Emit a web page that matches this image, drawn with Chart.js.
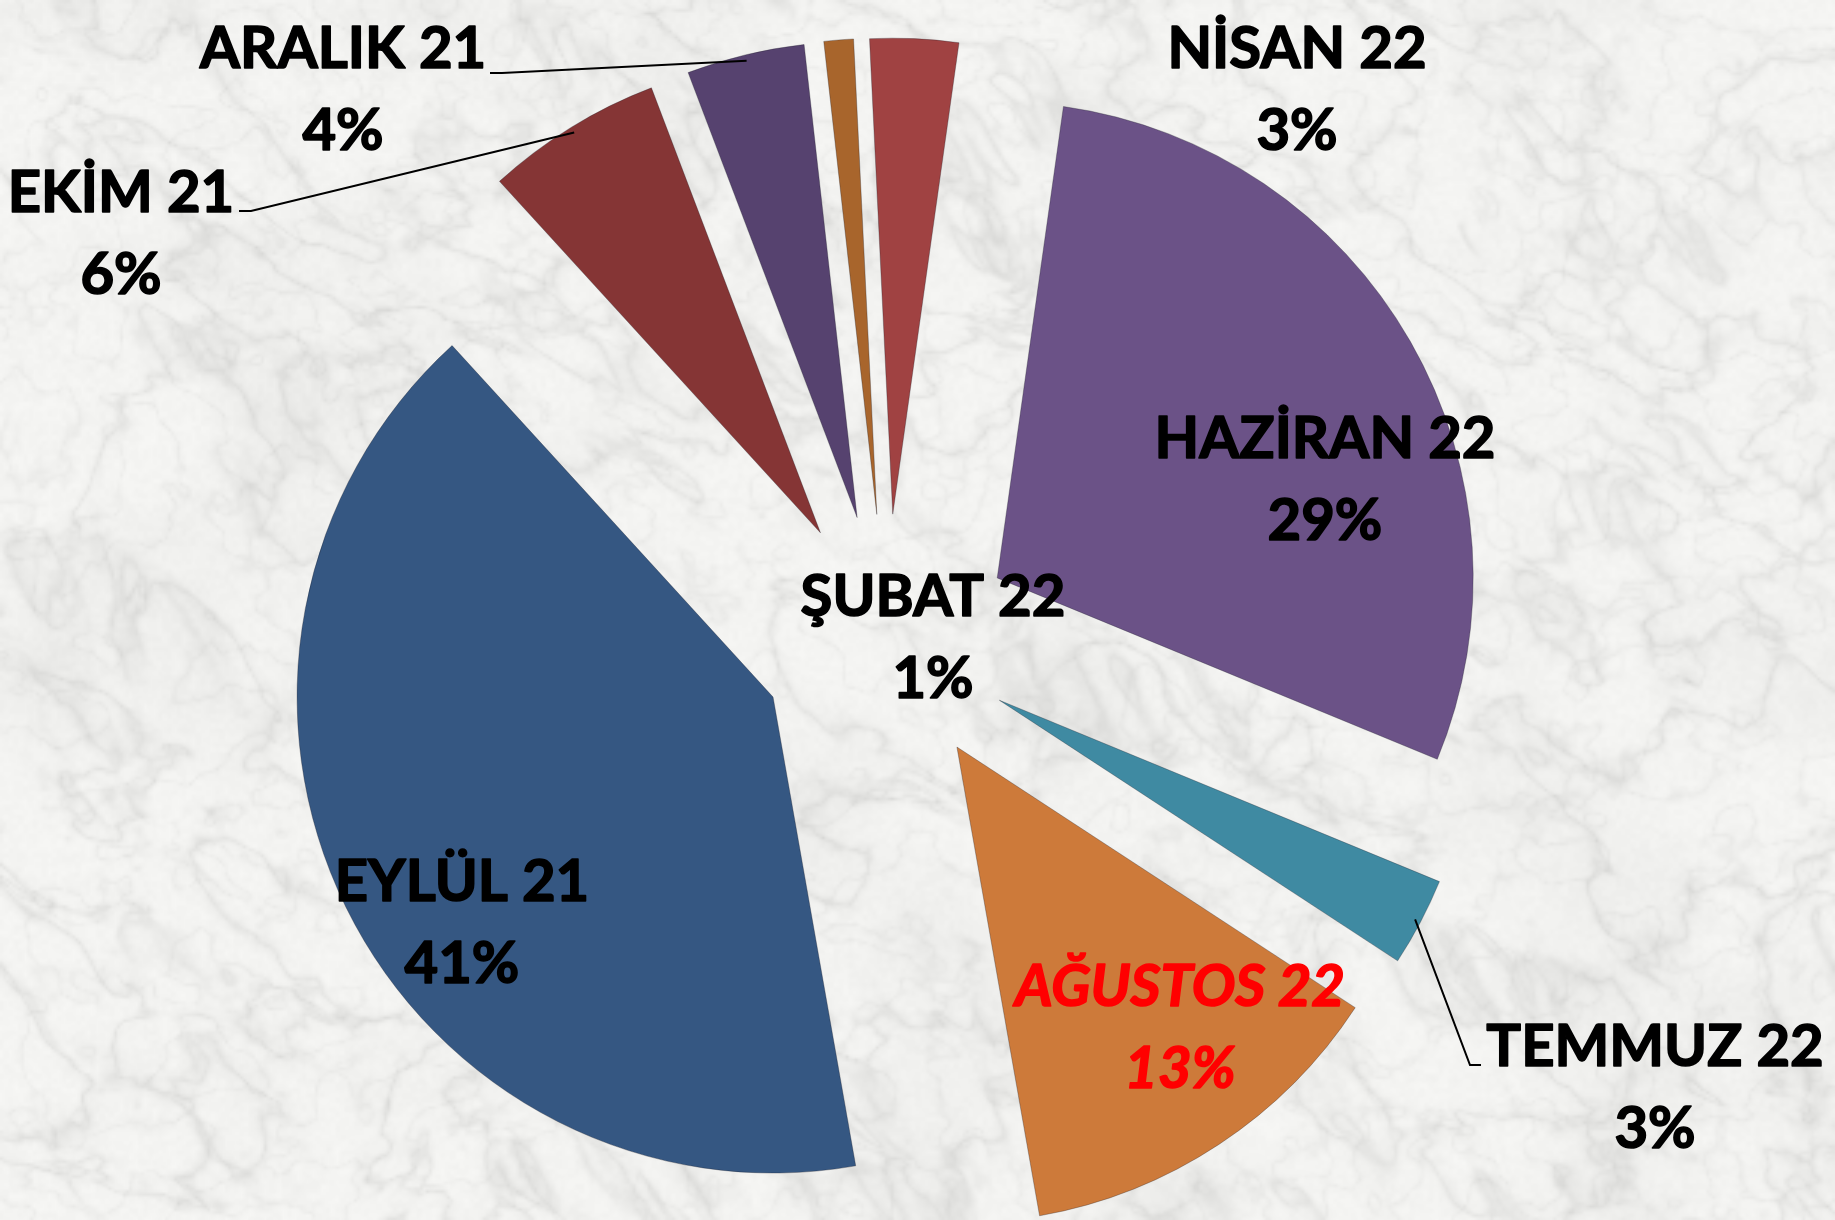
<!DOCTYPE html>
<html lang="tr">
<head>
<meta charset="utf-8">
<title>Aylara Göre Dağılım</title>
<script src="https://cdn.jsdelivr.net/npm/chart.js@4.4.1/dist/chart.umd.min.js"></script>
<style>
    html, body { margin: 0; padding: 0; background: #efefed; overflow: hidden; }
    #chartWrapper { position: relative; width: 1835px; height: 1220px; }
</style>
</head>
<body>
<div id="chartWrapper"><canvas id="myChart" width="1835" height="1220"></canvas></div>
<script>
// veriler
var aylar = ['EYLÜL 21', 'EKİM 21', 'ARALIK 21', 'ŞUBAT 22', 'NİSAN 22', 'HAZİRAN 22', 'TEMMUZ 22', 'AĞUSTOS 22'];
var yuzdeler = [41, 6, 4, 1, 3, 29, 3, 13];
var renkler = ['#355782', '#853535', '#56426F', '#A8652C', '#A04242', '#6B5287', '#3F8AA2', '#CD7A3A'];

// etiket yerleşimi (ilk satırın ortası, px)
var etiketYeri = [[462, 880], [121, 191], [343, 47], [933, 595], [1297, 47], [1325, 437], [1655, 1045], [1180, 985]];
// kılavuz çizgileri: etiket tarafındaki nokta ve kısa yatay parça
var kilavuz = { 1: [239, 211, 12], 2: [490, 73, 12], 6: [1481, 1065, -11] };
var vurgulu = 7; // AĞUSTOS kırmızı italik

var patlatma = 127;   // dilimlerin merkezden uzaklığı
var yaricap = 476;
var yaziBoyu = 58;
var satirArasi = 82;

// mermer zemin: bir kez üretilip her çizimde basılıyor
function mermerDoku(w, h) {
    var sw = Math.ceil(w / 3), sh = Math.ceil(h / 3);
    var c = document.createElement('canvas');
    c.width = sw; c.height = sh;
    var g = c.getContext('2d');
    var img = g.createImageData(sw, sh);
    function hash(x, y) {
        var n = (Math.imul(x, 374761393) + Math.imul(y, 668265263)) | 0;
        n = Math.imul(n ^ (n >>> 13), 1274126177);
        n = n ^ (n >>> 16);
        return (n >>> 0) / 4294967296;
    }
    function gurultu(x, y) {
        var ix = Math.floor(x), iy = Math.floor(y);
        var fx = x - ix, fy = y - iy;
        var ux = fx * fx * (3 - 2 * fx), uy = fy * fy * (3 - 2 * fy);
        var a = hash(ix, iy), b = hash(ix + 1, iy), c2 = hash(ix, iy + 1), d = hash(ix + 1, iy + 1);
        return a + (b - a) * ux + (c2 - a) * uy + (a - b - c2 + d) * ux * uy;
    }
    function fbm(x, y, n) {
        var s = 0, amp = 0.5, f = 1;
        for (var i = 0; i < n; i++) {
            s += amp * gurultu(x * f + i * 17.3, y * f + i * 9.1);
            f *= 2; amp *= 0.5;
        }
        return s;
    }
    var p = 0;
    for (var y = 0; y < sh; y++) {
        for (var x = 0; x < sw; x++) {
            var u = (x * 0.85 + y * 0.5) / 34, v = (-x * 0.5 + y * 0.85) / 22;
            var wx = fbm(u * 0.5, v * 0.5, 3) * 2.2;
            var r = fbm(u + wx, v + wx, 4);
            var damar = Math.pow(1 - Math.abs(2 * r - 0.94), 14);
            var r2 = fbm(x / 16 + 40, y / 13 + wx, 3);
            var ince = Math.pow(1 - Math.abs(2 * r2 - 0.94), 20);
            var leke = fbm(x / 45 + 11, y / 45 + 3, 4);
            var tane = gurultu(x / 1.6, y / 1.6);
            var val = 247 - 16 * damar - 9 * ince - 20 * Math.max(0, leke - 0.45) - 5 * tane;
            img.data[p++] = val;
            img.data[p++] = val;
            img.data[p++] = val - 2;
            img.data[p++] = 255;
        }
    }
    g.putImageData(img, 0, 0);
    return c;
}

var zemin = null;
const zeminPlugin = {
    id: 'zemin',
    beforeDraw: function (chart) {
        var ctx = chart.ctx;
        if (!zemin) zemin = mermerDoku(chart.width, chart.height);
        ctx.save();
        ctx.imageSmoothingEnabled = true;
        ctx.drawImage(zemin, 0, 0, chart.width, chart.height);
        ctx.restore();
    }
};

// dilimleri orta açıları yönünde dışarı kaydır
const dilimAyir = {
    id: 'dilimAyir',
    afterDatasetUpdate: function (chart, args) {
        args.meta.data.forEach(function (arc) {
            var orta = (arc.startAngle + arc.endAngle) / 2;
            arc.x += Math.cos(orta) * patlatma;
            arc.y += Math.sin(orta) * patlatma;
        });
    }
};

// etiketler ve kılavuz çizgileri
const etiketler = {
    id: 'etiketler',
    afterDatasetsDraw: function (chart) {
        var ctx = chart.ctx;
        var arcs = chart.getDatasetMeta(0).data;
        ctx.save();
        // kılavuz çizgileri
        ctx.strokeStyle = '#000';
        ctx.lineWidth = 2;
        Object.keys(kilavuz).forEach(function (k) {
            var arc = arcs[k];
            var orta = (arc.startAngle + arc.endAngle) / 2;
            var ux = arc.x + Math.cos(orta) * (arc.outerRadius - 6);
            var uy = arc.y + Math.sin(orta) * (arc.outerRadius - 6);
            var kv = kilavuz[k];
            ctx.beginPath();
            ctx.moveTo(kv[0], kv[1]);
            ctx.lineTo(kv[0] + kv[2], kv[1]);
            ctx.lineTo(ux, uy);
            ctx.stroke();
        });
        // yazılar (kalın görünsün diye aynı renkte ince kontur)
        ctx.textAlign = 'center';
        ctx.textBaseline = 'alphabetic';
        ctx.lineJoin = 'round';
        ctx.lineWidth = 1.6;
        var capYari = yaziBoyu * 0.7165 / 2;
        aylar.forEach(function (ay, i) {
            var yer = etiketYeri[i];
            var renk = i === vurgulu ? '#FF0000' : '#000000';
            ctx.font = (i === vurgulu ? 'italic ' : '') + 'bold ' + yaziBoyu + 'px Lato, "Open Sans", sans-serif';
            ctx.fillStyle = renk;
            ctx.strokeStyle = renk;
            [ay, yuzdeler[i] + '%'].forEach(function (satir, j) {
                var y = yer[1] + j * satirArasi + capYari;
                ctx.fillText(satir, yer[0], y);
                ctx.strokeText(satir, yer[0], y);
            });
        });
        ctx.restore();
    }
};

function grafikCiz() {
    var ctx = document.getElementById('myChart').getContext('2d');
    new Chart(ctx, {
        type: 'pie',
        data: {
            labels: aylar,
            datasets: [{
                data: yuzdeler,
                backgroundColor: renkler,
                borderColor: 'rgba(25,25,35,0.3)',
                borderWidth: 1
            }]
        },
        options: {
            responsive: false,
            animation: false,
            events: [],
            rotation: 170,
            radius: yaricap,
            layout: { padding: { left: 0, right: 61, top: 62, bottom: 0 } },
            plugins: {
                legend: { display: false },
                tooltip: { enabled: false }
            }
        },
        plugins: [zeminPlugin, dilimAyir, etiketler]
    });
}

if (document.fonts && document.fonts.load) {
    Promise.all([
        document.fonts.load('bold 58px Lato'),
        document.fonts.load('italic bold 58px Lato')
    ]).then(grafikCiz, grafikCiz);
} else {
    grafikCiz();
}
</script>
</body>
</html>
